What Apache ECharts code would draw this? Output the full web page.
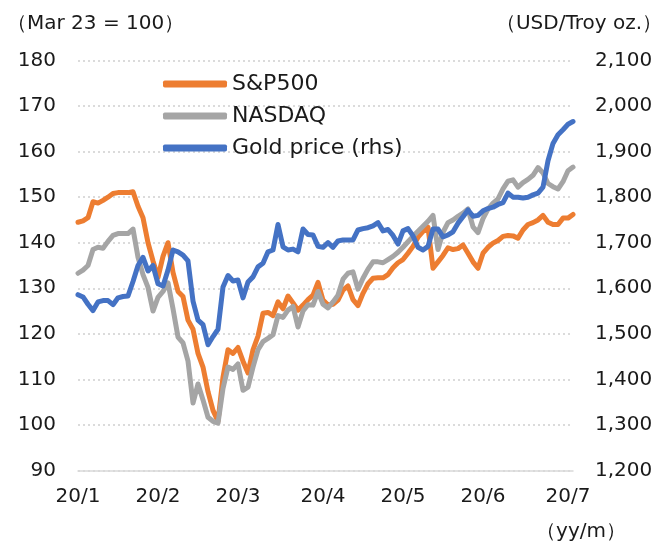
<!DOCTYPE html>
<html>
<head>
<meta charset="utf-8">
<script src="https://cdn.jsdelivr.net/npm/echarts@6/dist/echarts.min.js"></script>
<style>
  html, body { margin: 0; padding: 0; background: #fff; }
  #chart { width: 671px; height: 547px; }
</style>
</head>
<body>
<div id="chart"></div>
<script>
// values, one point per ~5px of the plot
const sp500 = [
  144.5, 144.8, 145.5, 149, 148.7, 149.3, 150, 150.8, 151, 151,
  151, 151.2, 148, 145.5, 140, 136, 132.4, 137, 140, 133.5,
  129.3, 128.2, 123, 121, 115.7, 112.7, 107.3, 103.2, 100.8, 110.5,
  116.5, 115.7, 117, 114, 111.4, 116.5, 119.5, 124.5, 124.7, 124,
  127, 125.5, 128.3, 126.8, 125.2, 126.3, 127.5, 128.5, 131.3, 127.4,
  126.3, 126.5, 127.4, 129.6, 130.5, 127.5, 126.2, 128.9, 131, 132.2,
  132.3, 132.3, 133, 134.5, 135.6, 136.3, 137.7, 139.2, 141.2, 142.5,
  143.4, 134.4, 135.8, 137.2, 138.9, 138.5, 138.7, 139.5, 137.7, 135.8,
  134.4, 137.7, 139, 139.9, 140.5, 141.4, 141.6, 141.5, 141, 142.8,
  144, 144.4, 145, 146, 144.5, 144, 144, 145.4, 145.4, 146.2
];
const nasdaq = [
  133.3, 134, 135, 138.5, 139, 138.8, 140.3, 141.6, 142, 142,
  142, 143, 136.8, 133, 130.2, 125, 128, 129.3, 131.2, 125.5,
  119.3, 118, 114, 104.8, 109, 105.5, 101.7, 100.8, 100.4, 108,
  112.7, 112.2, 113.4, 107.6, 108.3, 112.7, 116.5, 118.3, 119, 119.8,
  124, 123.6, 125.2, 126, 121.5, 125, 126.4, 126.3, 129.3, 126.5,
  125.7, 127, 128.5, 132, 133.3, 133.6, 129.8, 132.2, 134.2, 135.8,
  135.8, 135.6, 136.3, 137, 137.9, 139, 140.2, 141.4, 142.5, 143.6,
  144.7, 146, 138.5, 142.3, 144.4, 145, 145.8, 146.5, 147.4, 143.5,
  142.2, 145.3, 147.4, 148.7, 149.6, 151.8, 153.5, 153.8, 152.2, 153.2,
  153.9, 154.8, 156.5, 155.3, 153, 152.3, 151.8, 153.4, 155.8, 156.6
];
const gold = [
  1586, 1581, 1565, 1551, 1570, 1573, 1573, 1564, 1579, 1582,
  1583, 1615, 1650, 1668, 1638, 1650, 1610, 1605, 1640, 1684,
  1680, 1673, 1660, 1572, 1530, 1520, 1476, 1494, 1510, 1603,
  1628, 1616, 1618, 1579, 1614, 1625, 1647, 1655, 1680, 1684,
  1740, 1691, 1684, 1686, 1680, 1730, 1718, 1717, 1692, 1690,
  1700, 1690, 1704, 1706, 1706, 1706, 1728, 1731, 1733, 1737,
  1744, 1726, 1729, 1716, 1697, 1726, 1731, 1715, 1690, 1684,
  1692, 1730, 1730, 1713, 1717, 1724, 1743, 1757, 1772, 1758,
  1760, 1770, 1775, 1778, 1784, 1788, 1809, 1800, 1800, 1798,
  1800, 1805, 1809, 1822, 1880, 1918, 1937, 1948, 1960, 1966
];
const monthLabels = ['20/1', '20/2', '20/3', '20/4', '20/5', '20/6', '20/7'];
const monthIdx = [0, 16, 32, 49, 65, 81, 98];

const categories = sp500.map((_, i) => i);

const FONT = 'DejaVu Sans';
const TEXT = '#1a1a1a';

const chart = echarts.init(document.getElementById('chart'));

const option = {
  animation: false,
  textStyle: { fontFamily: FONT },
  title: [
    { text: '（Mar 23 = 100）', left: 2, top: 9,
      textStyle: { fontFamily: FONT, fontSize: 20, fontWeight: 'normal', color: TEXT } },
    { text: '（USD/Troy oz.）', right: 4, top: 9,
      textStyle: { fontFamily: FONT, fontSize: 20, fontWeight: 'normal', color: TEXT } },
    { text: '（yy/m）', right: 40, top: 517,
      textStyle: { fontFamily: FONT, fontSize: 20, fontWeight: 'normal', color: TEXT } }
  ],
  legend: {
    orient: 'vertical',
    left: 158,
    top: 68,
    itemGap: 10,
    itemWidth: 64,
    itemHeight: 7,
    icon: 'roundRect',
    textStyle: { fontFamily: FONT, fontSize: 22, color: TEXT },
    data: ['S&P500', 'NASDAQ', 'Gold price (rhs)']
  },
  grid: { left: 78, right: 98, top: 60.5, bottom: 76.5 },
  xAxis: {
    type: 'category',
    data: categories,
    boundaryGap: false,
    axisLine: { lineStyle: { color: '#d9d9d9', width: 1.5 } },
    axisTick: { show: false },
    axisLabel: {
      interval: (i) => monthIdx.includes(i),
      formatter: (v, i) => monthLabels[monthIdx.indexOf(i)] || '',
      margin: 16,
      fontFamily: FONT, fontSize: 20, color: TEXT
    },
    splitLine: { show: false }
  },
  yAxis: [
    {
      type: 'value', min: 90, max: 180, interval: 10,
      axisLine: { show: false }, axisTick: { show: false },
      axisLabel: { margin: 22, fontFamily: FONT, fontSize: 20, color: TEXT },
      splitLine: { lineStyle: { color: '#cfcfcf', width: 1.5, type: [2, 3] } }
    },
    {
      type: 'value', min: 1200, max: 2100, interval: 100,
      axisLine: { show: false }, axisTick: { show: false },
      axisLabel: {
        margin: 22, fontFamily: FONT, fontSize: 20, color: TEXT,
        formatter: (v) => v.toLocaleString('en-US')
      },
      splitLine: { show: false }
    }
  ],
  series: [
    {
      name: 'S&P500', type: 'line', data: sp500, yAxisIndex: 0,
      showSymbol: false, symbol: 'none',
      itemStyle: { color: '#ED7D31' },
      lineStyle: { color: '#ED7D31', width: 5, cap: 'round', join: 'round' }
    },
    {
      name: 'NASDAQ', type: 'line', data: nasdaq, yAxisIndex: 0,
      showSymbol: false, symbol: 'none',
      itemStyle: { color: '#A5A5A5' },
      lineStyle: { color: '#A5A5A5', width: 5, cap: 'round', join: 'round' }
    },
    {
      name: 'Gold price (rhs)', type: 'line', data: gold, yAxisIndex: 1,
      showSymbol: false, symbol: 'none',
      itemStyle: { color: '#4472C4' },
      lineStyle: { color: '#4472C4', width: 5, cap: 'round', join: 'round' }
    }
  ]
};

chart.setOption(option);
</script>
</body>
</html>
